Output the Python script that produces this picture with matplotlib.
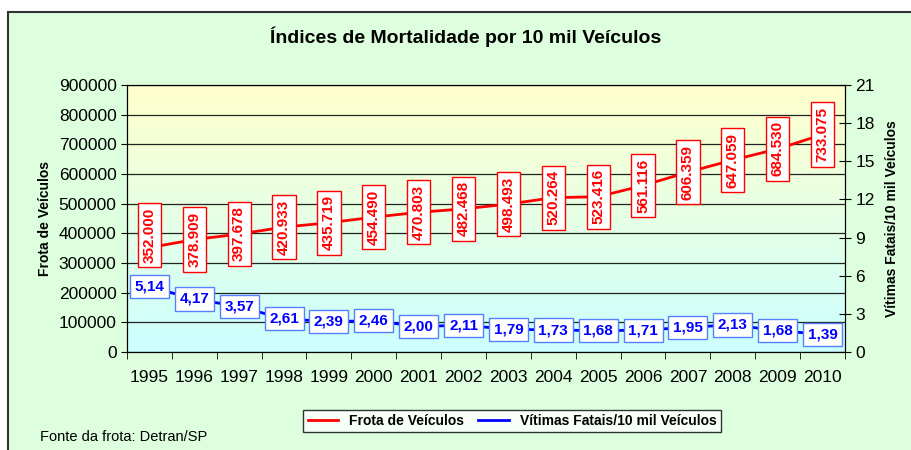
import numpy as np
import matplotlib.pyplot as plt
from matplotlib.patches import Rectangle
from matplotlib.colors import LinearSegmentedColormap

plt.rcParams['font.family'] = ['Liberation Sans', 'DejaVu Sans']

anos = ['1995', '1996', '1997', '1998', '1999', '2000', '2001', '2002',
        '2003', '2004', '2005', '2006', '2007', '2008', '2009', '2010']
frota = [352000, 378909, 397678, 420933, 435719, 454490, 470803, 482468,
         498493, 520264, 523416, 561116, 606359, 647059, 684530, 733075]
vitimas = [5.14, 4.17, 3.57, 2.61, 2.39, 2.46, 2.00, 2.11,
           1.79, 1.73, 1.68, 1.71, 1.95, 2.13, 1.68, 1.39]

fig = plt.figure(figsize=(9.12, 4.5), dpi=100, facecolor='white')
# moldura verde do grafico (cortada a direita e embaixo)
fig.patches.append(Rectangle((8/912, -0.02), 1.0, 1 - 12/450 + 0.02,
                             transform=fig.transFigure, facecolor='#ddffdd',
                             edgecolor='#333333', lw=1.5, zorder=-10))

ax = fig.add_axes([127/912, 1 - 352/450, (845 - 127)/912, (352 - 85)/450])
ax.set_facecolor('none')

# fundo em degrade amarelo -> ciano
cmap = LinearSegmentedColormap.from_list('bg', ['#ccffff', '#ffffcc'])
grad = np.linspace(0, 1, 256).reshape(-1, 1)
ax.imshow(grad, cmap=cmap, aspect='auto', extent=[0, 1, 0, 1],
          transform=ax.transAxes, origin='lower', zorder=0)

x = np.arange(len(anos))
ax.plot(x, frota, color='red', lw=2, zorder=3, label='Frota de Veículos')
ax.set_xlim(-0.5, len(anos) - 0.5)
ax.set_ylim(0, 900000)
ax.set_yticks(np.arange(0, 900001, 100000))
ax.set_yticklabels([str(v) for v in range(0, 900001, 100000)], fontsize=12.5)
ax.yaxis.grid(True, color='#222222', lw=0.9)
ax.set_axisbelow(False)
ax.set_xticks(x)
ax.set_xticklabels(anos, fontsize=12.5)
ax.set_xticks(np.arange(-0.5, len(anos), 1), minor=True)
ax.tick_params(axis='x', which='major', length=0, pad=13)
ax.tick_params(axis='x', which='minor', length=5, direction='out')
ax.tick_params(axis='y', length=4, direction='out')
ax.set_ylabel('Frota de Veículos', fontsize=10, fontweight='bold', labelpad=5)
for s in ax.spines.values():
    s.set_color('black')

for i, (xi, v) in enumerate(zip(x, frota)):
    txt = f'{v:,}'.replace(',', '.')
    dy = 9 if i == 0 else 0  # primeiro rotulo um pouco acima, como no original
    ax.annotate(txt, (xi, v), xytext=(0, dy), textcoords='offset points',
                rotation=90, ha='center', va='center', color='red',
                fontsize=11, fontweight='bold', zorder=5,
                bbox=dict(boxstyle='square,pad=0.3', fc='white', ec='red', lw=1))

ax2 = ax.twinx()
ax2.plot(x, vitimas, color='blue', lw=2, zorder=3,
         label='Vítimas Fatais/10 mil Veículos')
ax2.set_ylim(0, 21)
ax2.set_yticks(np.arange(0, 22, 3))
ax2.set_yticklabels([str(v) for v in range(0, 22, 3)], fontsize=12.5)
ax2.tick_params(axis='y', length=8, direction='inout')
ax2.set_ylabel('Vítimas Fatais/10 mil Veículos', fontsize=10,
               fontweight='bold', labelpad=7)
for xi, v in zip(x, vitimas):
    txt = f'{v:.2f}'.replace('.', ',')
    ax2.text(xi, v, txt, ha='center', va='center', color='blue',
             fontsize=11, fontweight='bold', zorder=5,
             bbox=dict(boxstyle='square,pad=0.3', fc='white', ec='#5580ff', lw=1))

fig.text(0.511, 1 - 37/450, 'Índices de Mortalidade por 10 mil Veículos',
         ha='center', va='center', fontsize=14, fontweight='bold')

h1, l1 = ax.get_legend_handles_labels()
h2, l2 = ax2.get_legend_handles_labels()
leg = fig.legend(h1 + h2, l1 + l2, loc='center', bbox_to_anchor=(512/912, 1 - 421/450),
                 ncol=2, frameon=True, fancybox=False,
                 prop={'weight': 'bold', 'size': 10}, handlelength=2.2,
                 columnspacing=1.0, borderpad=0.3, handletextpad=0.8)
leg.get_frame().set_edgecolor('black')
leg.get_frame().set_linewidth(1)

fig.text(40/912, 1 - 437/450, 'Fonte da frota: Detran/SP', ha='left',
         va='center', fontsize=10.5)

plt.savefig('out.png', dpi=100, facecolor=fig.get_facecolor())
